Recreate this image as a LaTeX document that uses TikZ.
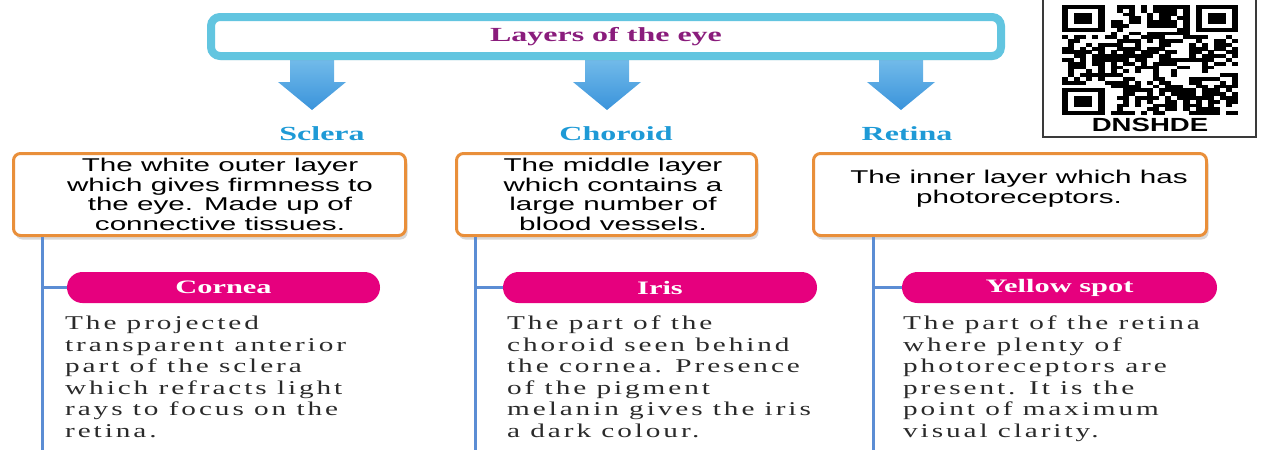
\documentclass[tikz,border=0pt]{standalone}
\usepackage{fontspec}
\usetikzlibrary{shadows,shapes.misc,calc}
\newfontfamily\titlefont[FakeStretch=1.6]{Liberation Serif}
\newfontfamily\boxfont[FakeStretch=1.6]{Liberation Sans}
\newfontfamily\descfont[FakeStretch=1.5,LetterSpace=15]{Liberation Serif}
\newfontfamily\qrfont[FakeStretch=1.45]{Liberation Sans}
\definecolor{cyanb}{HTML}{62C5E0}
\definecolor{arrowtop}{HTML}{7CC2EC}
\definecolor{arrowbot}{HTML}{3A93DB}
\definecolor{lblblue}{HTML}{1E9AD6}
\definecolor{titlepurple}{HTML}{8A1C7C}
\definecolor{orangeb}{HTML}{E98F3A}
\definecolor{pinkfill}{HTML}{E6007E}
\definecolor{linesblue}{HTML}{5B8DD4}
\definecolor{txtgray}{HTML}{2A2A2A}
\definecolor{qrgray}{HTML}{3A3A3A}
\tikzset{
  topbox/.style={draw=cyanb, line width=8pt, rounded corners=9pt, fill=white,
    drop shadow={opacity=0.3, shadow xshift=1pt, shadow yshift=-4pt},
    font=\titlefont\bfseries\fontsize{20}{24}\selectfont, text=titlepurple},
  lbl/.style={font=\titlefont\bfseries\fontsize{20}{24}\selectfont, text=lblblue, inner sep=0pt},
  blockarrow/.style={top color=arrowtop, bottom color=arrowbot},
  obox/.style={draw=orangeb, line width=3pt, rounded corners=7pt, fill=white,
    minimum height=82pt,
    drop shadow={opacity=0.3, shadow xshift=2pt, shadow yshift=-4pt}},
  boxtxt/.style={font=\boxfont\fontsize{18.5}{19.5}\selectfont, align=center, text=black, inner sep=0pt},
  vline/.style={draw=linesblue, line width=3pt},
  pill/.style={rounded rectangle, fill=pinkfill, text=white, minimum height=31pt, inner sep=0pt,
    font=\titlefont\bfseries\fontsize{19}{22}\selectfont},
  desc/.style={font=\descfont\fontsize{19.5}{21.5}\selectfont, align=left, anchor=base west,
    inner sep=0pt, text=txtgray},
  qrmod/.style={fill=black},
}
\begin{document}
\begin{tikzpicture}[x=1pt,y=-1pt]
\useasboundingbox (0,0) rectangle (1265,450);
% arrows (behind top box)
\coordinate (a1) at (312,56);
\coordinate (a2) at (607,56);
\coordinate (a3) at (901,56);
\foreach \a in {a1,a2,a3}{
  \shade[blockarrow, shift={(\a)}] (-22,-6) -- (22,-6) -- (22,26) -- (34,26) -- (0,54) -- (-34,26) -- (-22,26) -- cycle;
}
% top box
\node[topbox, minimum width=790pt, minimum height=39pt] (top) at (606,36.5) {Layers of the eye};
% labels
\node[lbl] (sl) at (322,134) {Sclera};
\node[lbl] (ch) at (616,134) {Choroid};
\node[lbl] (re) at (907,134) {Retina};
% orange boxes
\node[obox, minimum width=392pt] (b1) at (209.5,194.5) {};
\node[obox, minimum width=300pt] (b2) at (606.5,194.5) {};
\node[obox, minimum width=393pt] (b3) at (1010,194.5) {};
\node[boxtxt] (t1) at (220,194.5) {The white outer layer\\which gives firmness to\\the eye. Made up of\\connective tissues.};
\node[boxtxt] (t2) at (613,194.5) {The middle layer\\which contains a\\large number of\\blood vessels.};
\node[boxtxt] (t3) at (1019,188.5) {The inner layer which has\\photoreceptors.};
% vertical lines
\coordinate (v1) at (42,450);
\coordinate (v2) at (475,450);
\coordinate (v3) at (873,450);
\draw[vline] (b1.south -| v1) -- (v1);
\draw[vline] (b2.south -| v2) -- (v2);
\draw[vline] (b3.south -| v3) -- (v3);
% pills
\node[pill, minimum width=313pt] (p1) at (223.5,287.5) {Cornea};
\node[pill, minimum width=314pt] (p2) at (660,287.5) {Iris};
\node[pill, minimum width=315pt] (p3) at (1059.5,287.5) {Yellow spot};
\draw[vline] (p1.west -| v1) -- (p1.west);
\draw[vline] (p2.west -| v2) -- (p2.west);
\draw[vline] (p3.west -| v3) -- (p3.west);
% descriptions (base = last line)
\node[desc] (d1) at (65,437) {The projected\\transparent anterior\\part of the sclera\\which refracts light\\rays to focus on the\\retina.};
\node[desc] (d2) at (507,437) {The part of the\\choroid seen behind\\the cornea. Presence\\of the pigment\\melanin gives the iris\\a dark colour.};
\node[desc] (d3) at (903,437) {The part of the retina\\where plenty of\\photoreceptors are\\present. It is the\\point of maximum\\visual clarity.};
% QR code
\draw[qrgray, line width=1.5pt] (1043,-3) rectangle (1256,137);
\pgfmathsetseed{11}
\foreach \i in {0,...,28}{
  \foreach \j in {0,...,28}{
    \pgfmathtruncatemacro\on{((\i<8 && \j<8) || (\i>20 && \j<8) || (\i<8 && \j>20)) ? 0 : (rnd<0.55 ? 1 : 0)}
    \ifnum\on=1
      \fill[qrmod] (1062+\i*6.07,5+\j*3.79) rectangle ++(6.12,3.84);
    \fi
  }
}
\foreach \ci/\cj in {0/0,22/0,0/22}{
  \fill[qrmod] (1062+\ci*6.07,5+\cj*3.79) rectangle ++(7*6.07,7*3.79);
  \fill[white] (1062+\ci*6.07+6.07,5+\cj*3.79+3.79) rectangle ++(5*6.07,5*3.79);
  \fill[qrmod] (1062+\ci*6.07+2*6.07,5+\cj*3.79+2*3.79) rectangle ++(3*6.07,3*3.79);
}
\node[font=\qrfont\bfseries\fontsize{19}{20}\selectfont, inner sep=0pt, fill=white] (qrt) at (1150,125) {DNSHDE};
\end{tikzpicture}
\end{document}
